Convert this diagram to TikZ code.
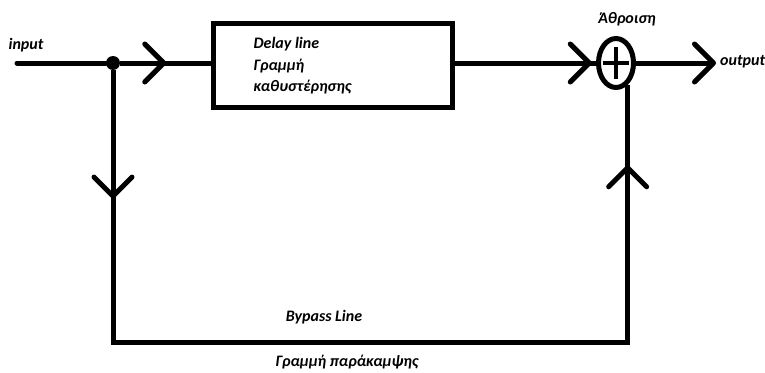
\documentclass[tikz,border=0pt]{standalone}
\usepackage{fontspec}
\setmainfont{Carlito}
\usetikzlibrary{arrows.meta, positioning, shapes.geometric, decorations.markings}

\tikzset{
  chev/.tip={Straight Barb[length=19pt, width=38pt, round]},
  wire/.style={line width=5pt},
  lbl/.style={font=\fontsize{16}{21.5}\selectfont\bfseries\itshape, inner sep=0pt},
  chevat/.style={postaction=decorate, decoration={markings,
      mark=at position #1 with {\arrow[line width=5pt]{chev}}}},
  chevtwo/.style 2 args={postaction=decorate, decoration={markings,
      mark=at position #1 with {\arrow[line width=5pt]{chev}},
      mark=at position #2 with {\arrow[line width=5pt]{chev}}}}
}

\begin{document}
\begin{tikzpicture}[x=1pt, y=-1pt]
\useasboundingbox (0,0) rectangle (765,372);

% blocks
\node[draw, line width=5pt, minimum width=239pt, minimum height=84pt, inner sep=0pt]
  (delay) at (332.5,65) {};
\node[lbl, align=left] (delaytxt) at ([xshift=-30pt,yshift=-1pt]delay.center)
  {Delay line\\Γραμμή\\καθυστέρησης};
\node[draw, ellipse, line width=5pt, minimum width=35pt, minimum height=49pt, inner sep=0pt]
  (sum) at (616,63) {};
\draw[line width=3.5pt] ([yshift=-16pt]sum.center) -- ([yshift=16pt]sum.center)
  ([xshift=-13pt]sum.center) -- ([xshift=13pt]sum.center);
\node[circle, fill, inner sep=0pt, minimum size=14pt] (dot) at (113,63) {};

% labels
\coordinate (in) at (17,63);
\node[lbl] (inlbl) at (26,45) {input};
\node[lbl, anchor=west] (outlbl) at (720,62) {output};
\node[lbl] (sumlbl) at (627,19) {Άθροιση};
\coordinate (bl) at (113,342);
\coordinate (br) at (sum.-62 |- bl);
\node[lbl] (bypass) at (324,317) {Bypass Line};
\node[lbl] (bypassgr) at (347,362) {Γραμμή παράκαμψης};

% connectors
\draw[wire, line cap=round] (in) -- (dot);
\draw[wire, chevat=0.51] (dot) -- (dot -| delay.west);
\draw[wire, chevat=0.97] (sum.west -| delay.east) -- (sum.west);
\draw[wire, -chev] (sum.east) -- ([xshift=-4pt]outlbl.west |- sum.east);
\draw[wire, line join=miter, chevtwo={0.123}{0.923}] (dot) -- (bl) -- (br) -- (sum.-62);
\end{tikzpicture}
\end{document}
